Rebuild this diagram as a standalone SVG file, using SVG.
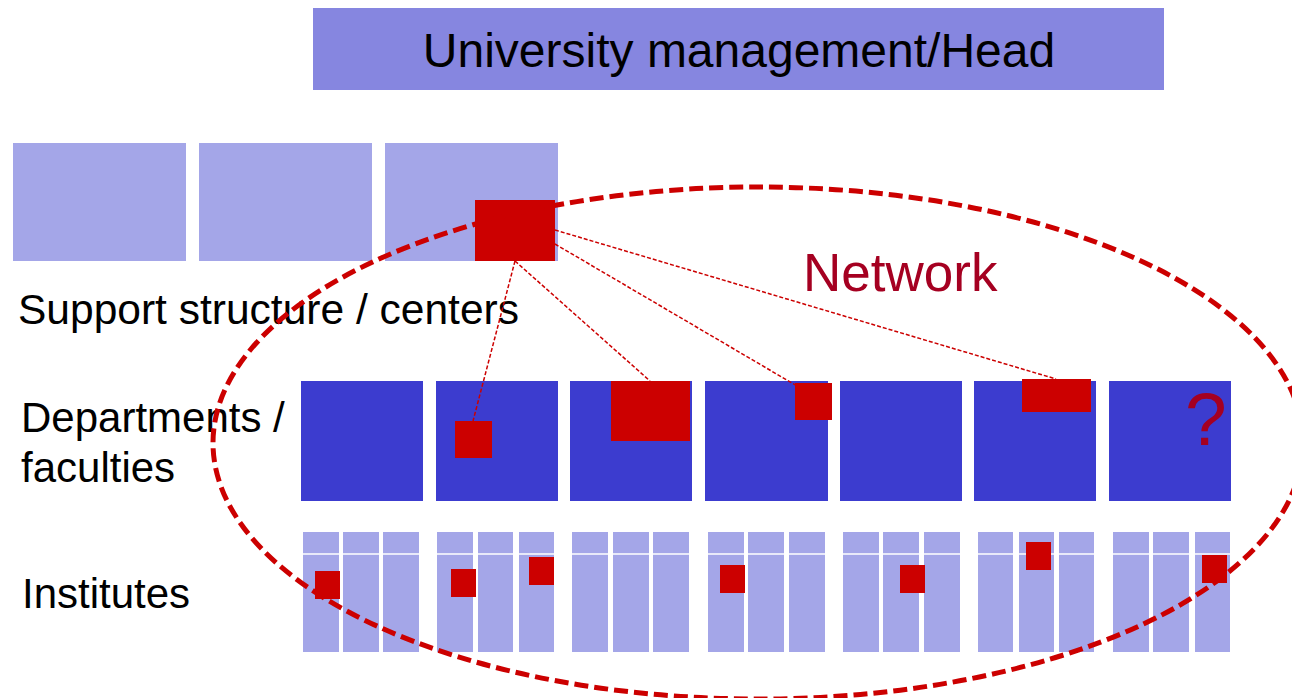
<svg xmlns="http://www.w3.org/2000/svg" width="1292" height="698" viewBox="0 0 1292 698">
  <style>
    .lbl { font-family: "Liberation Sans", Arial, sans-serif; fill: #000000; }
    .sup { fill: #a4a6e8; }
    .dep { fill: #3c3ccf; }
    .ins { fill: #a4a6e8; }
    .red { fill: #cc0000; }
    .link { stroke: #cc0000; stroke-width: 1.5; stroke-dasharray: 4 2; fill: none; }
    .net { stroke: #cc0000; stroke-width: 5; stroke-dasharray: 14 6; fill: none; }
    .dark { font-family: "Liberation Sans", Arial, sans-serif; fill: #a50021; }
  </style>
  <rect width="1292" height="698" fill="#ffffff"/>

  <g id="head">
    <rect x="313" y="8" width="851" height="82" fill="#8686e0"/>
    <text class="lbl" x="739" y="67" font-size="48" text-anchor="middle">University management/Head</text>
  </g>

  <g id="support">
    <rect class="sup" x="13" y="143" width="173" height="118"/>
    <rect class="sup" x="199" y="143" width="173" height="118"/>
    <rect class="sup" x="385" y="143" width="173" height="118"/>
    <rect class="red" x="475" y="200" width="80" height="61"/>
  </g>

  <g id="departments">
    <rect class="dep" x="301" y="381" width="122" height="120"/>
    <rect class="dep" x="436" y="381" width="122" height="120"/>
    <rect class="dep" x="570" y="381" width="122" height="120"/>
    <rect class="dep" x="705" y="381" width="123" height="120"/>
    <rect class="dep" x="840" y="381" width="122" height="120"/>
    <rect class="dep" x="974" y="381" width="122" height="120"/>
    <rect class="dep" x="1109" y="381" width="122" height="120"/>
    <rect class="red" x="455" y="421" width="37" height="37"/>
    <rect class="red" x="611" y="381" width="79" height="60"/>
    <rect class="red" x="795" y="383" width="37" height="37"/>
    <rect class="red" x="1022" y="379" width="69" height="33"/>
    <text class="dark" x="1185" y="445" font-size="75">?</text>
  </g>

  <g id="institutes">
    <rect class="ins" x="303" y="532" width="36" height="120"/>
    <rect class="ins" x="343" y="532" width="36" height="120"/>
    <rect class="ins" x="383" y="532" width="36" height="120"/>
    <rect class="ins" x="437" y="532" width="36" height="120"/>
    <rect class="ins" x="478" y="532" width="35" height="120"/>
    <rect class="ins" x="519" y="532" width="35" height="120"/>
    <rect class="ins" x="572" y="532" width="36" height="120"/>
    <rect class="ins" x="613" y="532" width="36" height="120"/>
    <rect class="ins" x="653" y="532" width="36" height="120"/>
    <rect class="ins" x="708" y="532" width="36" height="120"/>
    <rect class="ins" x="748" y="532" width="36" height="120"/>
    <rect class="ins" x="789" y="532" width="36" height="120"/>
    <rect class="ins" x="843" y="532" width="36" height="120"/>
    <rect class="ins" x="883" y="532" width="36" height="120"/>
    <rect class="ins" x="924" y="532" width="36" height="120"/>
    <rect class="ins" x="978" y="532" width="35" height="120"/>
    <rect class="ins" x="1019" y="532" width="35" height="120"/>
    <rect class="ins" x="1059" y="532" width="35" height="120"/>
    <rect class="ins" x="1113" y="532" width="36" height="120"/>
    <rect class="ins" x="1153" y="532" width="36" height="120"/>
    <rect class="ins" x="1195" y="532" width="35" height="120"/>
    <line x1="300" y1="554" x2="1234" y2="554" stroke="#ffffff" stroke-width="1.5"/>
    <rect class="red" x="315" y="571" width="25" height="28"/>
    <rect class="red" x="451" y="569" width="25" height="28"/>
    <rect class="red" x="529" y="557" width="25" height="28"/>
    <rect class="red" x="720" y="565" width="25" height="28"/>
    <rect class="red" x="900" y="565" width="25" height="28"/>
    <rect class="red" x="1026" y="542" width="25" height="28"/>
    <rect class="red" x="1202" y="555" width="25" height="28"/>
  </g>

  <g id="labels">
    <text class="lbl" x="18" y="324" font-size="42" textLength="501" lengthAdjust="spacingAndGlyphs">Support structure / centers</text>
    <text class="lbl" x="21" y="432" font-size="42">Departments /</text>
    <text class="lbl" x="21" y="482" font-size="42">faculties</text>
    <text class="lbl" x="22" y="608" font-size="42">Institutes</text>
    <text class="dark" x="803" y="291" font-size="53">Network</text>
  </g>

  <g id="connectors">
    <line class="link" x1="515" y1="261" x2="473" y2="421"/>
    <line class="link" x1="515" y1="261" x2="650" y2="381"/>
    <line class="link" x1="555" y1="244" x2="797" y2="386"/>
    <line class="link" x1="555" y1="230" x2="1056" y2="379"/>
    <ellipse class="net" cx="758" cy="443" rx="545" ry="256"/>
  </g>
</svg>
